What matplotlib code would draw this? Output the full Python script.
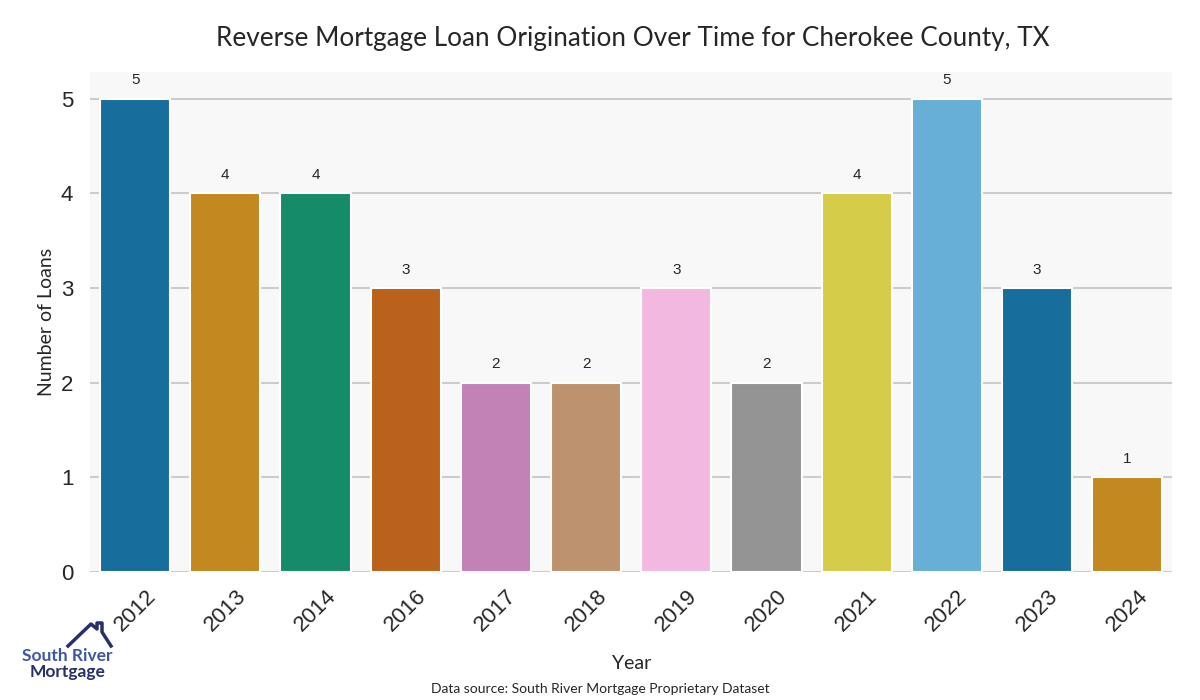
import matplotlib
matplotlib.use("Agg")
import matplotlib.pyplot as plt
import seaborn as sns
import pandas as pd

years = ["2012", "2013", "2014", "2016", "2017", "2018", "2019", "2020", "2021", "2022", "2023", "2024"]
loans = [5, 4, 4, 3, 2, 2, 3, 2, 4, 5, 3, 1]

df = pd.DataFrame({"Year": years, "Loans": loans})

fig = plt.figure(figsize=(12, 7), dpi=100)
ax = fig.add_axes([0.075, 0.183, 0.902, 0.714])
ax.set_facecolor("#f8f8f8")

pal = sns.color_palette("colorblind", 10)
colors = [pal[i % 10] for i in range(len(years))]
sns.barplot(data=df, x="Year", y="Loans", hue="Year", palette=colors, legend=False,
            width=0.78, edgecolor="white", linewidth=1.5, ax=ax, zorder=3)

for i, v in enumerate(loans):
    ax.text(i, v + 0.12, str(v), ha="center", va="bottom", fontsize=11,
            family="Liberation Sans", color="#262626")

ax.set_ylim(0, 5.28)
ax.set_xlim(-0.5, len(years) - 0.5)
ax.set_yticks(range(0, 6))
ax.yaxis.grid(True, color="#cccccc", linewidth=1.5, zorder=0)
ax.set_axisbelow(True)
for s in ax.spines.values():
    s.set_visible(False)
ax.tick_params(axis="both", length=0, labelsize=16, colors="#262626")
ax.tick_params(axis="y", pad=12)
ax.tick_params(axis="x", pad=10)
for lab in ax.get_xticklabels() + ax.get_yticklabels():
    lab.set_family("Liberation Sans")
plt.setp(ax.get_xticklabels(), rotation=45, ha="center")

ax.set_xlabel("Year", fontsize=14, family="Lato", color="#262626", labelpad=14)
ax.set_ylabel("Number of Loans", fontsize=14, family="Lato", color="#262626")
fig.text(0.527, 0.945, "Reverse Mortgage Loan Origination Over Time for Cherokee County, TX",
         ha="center", va="center", fontsize=18.8, family="Lato", color="#262626")
fig.text(0.5, 0.016, "Data source: South River Mortgage Proprietary Dataset",
         ha="center", va="center", fontsize=10, family="Lato", color="#262626")

# logo
fig.text(0.056, 0.063, "South River", ha="center", va="center", fontsize=12.5,
         family="Lato", weight="bold", color="#3f55a6")
fig.text(0.056, 0.040, "Mortgage", ha="center", va="center", fontsize=12.5,
         family="Lato", weight="bold", color="#27306b")
hx = [68, 91, 97, 97, 102, 102, 111]
hy = [646, 624, 629, 623, 623, 632, 646]
fig.add_artist(plt.Line2D([x / 1200 for x in hx], [1 - y / 700 for y in hy],
                          transform=fig.transFigure, color="#27306b", linewidth=2.5))

fig.savefig("out.png", dpi=100)
